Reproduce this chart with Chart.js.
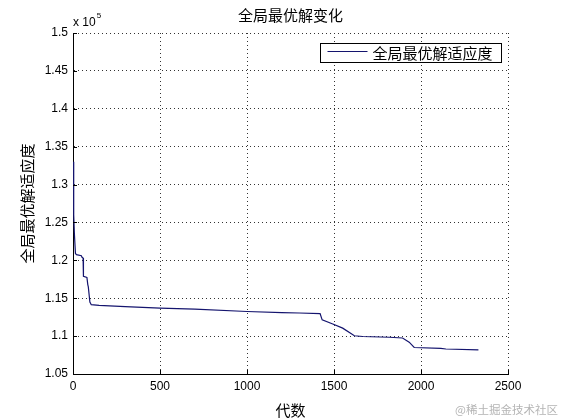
<!DOCTYPE html>
<html>
<head>
<meta charset="utf-8">
<script src="https://cdn.jsdelivr.net/npm/chart.js@4.4.1/dist/chart.umd.min.js"></script>
<style>
  html, body { margin: 0; padding: 0; background: #fff; }
  #wrap { width: 561px; height: 420px; }
</style>
</head>
<body>
<div id="wrap"><canvas id="myChart" width="561" height="420"></canvas></div>
<script>
// 数据
const generations = [0, 3, 5, 8, 14, 20, 48, 52, 58, 60, 80, 85, 88, 97, 105, 150, 300, 500, 700, 1000,
  1200, 1300, 1420, 1432, 1493, 1550, 1617, 1665, 1818, 1894, 1932, 1961, 2114, 2143, 2330];
const fitness = [133000, 131000, 126000, 123500, 120900, 120750, 120600, 120400, 120300, 117900, 117750,
  116800, 116500, 114500, 114150, 114050, 113900, 113700, 113550, 113250, 113100, 113050, 112980,
  112150, 111600, 111050, 110050, 109950, 109850, 109750, 109200, 108500, 108380, 108300, 108180];
const yTicks = [105000, 110000, 115000, 120000, 125000, 130000, 135000, 140000, 145000, 150000];
const xTicks = [0, 500, 1000, 1500, 2000, 2500];

const latin = "'Liberation Sans', Arial, sans-serif";
const cjk = "'Noto Sans CJK SC', sans-serif";
const lineColor = '#14146e';

// 图例、指数标记、内向刻度、水印
const extras = {
  id: 'extras',
  afterDatasetsDraw(chart) {
    const ctx = chart.ctx;
    const area = chart.chartArea;
    const xs = chart.scales.x, ys = chart.scales.y;
    ctx.save();

    // 内向刻度
    ctx.strokeStyle = '#000';
    ctx.lineWidth = 1;
    ctx.beginPath();
    yTicks.forEach(v => {
      const py = Math.round(ys.getPixelForValue(v)) + 0.5;
      ctx.moveTo(area.left, py); ctx.lineTo(area.left + 4, py);
    });
    xTicks.forEach(v => {
      const px = Math.round(xs.getPixelForValue(v)) + 0.5;
      ctx.moveTo(px, area.bottom); ctx.lineTo(px, area.bottom - 4);
    });
    ctx.stroke();

    // x 10^5
    ctx.fillStyle = '#000';
    ctx.textBaseline = 'alphabetic';
    ctx.textAlign = 'left';
    ctx.font = '12px ' + latin;
    ctx.fillText('x 10', area.left, area.top - 7);
    const w = ctx.measureText('x 10').width;
    ctx.font = '8px ' + latin;
    ctx.fillText('5', area.left + w + 1, area.top - 15);

    // 图例
    const ds = chart.data.datasets[0];
    ctx.font = '15px ' + cjk;
    const tw = ctx.measureText(ds.label).width;
    const bw = 7 + 40 + 5 + tw + 9, bh = 19;
    const bx = Math.round(area.right - 7 - bw) + 0.5, by = Math.round(area.top + 10) + 0.5;
    ctx.fillStyle = '#fff';
    ctx.fillRect(bx, by, bw, bh);
    ctx.strokeStyle = '#000';
    ctx.strokeRect(bx, by, bw, bh);
    ctx.strokeStyle = ds.borderColor;
    ctx.lineWidth = 1.2;
    ctx.beginPath();
    ctx.moveTo(bx + 7, by + 8); ctx.lineTo(bx + 47, by + 8);
    ctx.stroke();
    ctx.fillStyle = '#000';
    ctx.textBaseline = 'middle';
    ctx.fillText(ds.label, bx + 52, by + bh / 2);

    // 水印
    ctx.font = '11.5px ' + cjk;
    ctx.fillStyle = '#b4b4b4';
    ctx.textAlign = 'right';
    ctx.fillText('@稀土掘金技术社区', 558, 410);
    ctx.restore();
  }
};

const ctx = document.getElementById('myChart').getContext('2d');
const myChart = new Chart(ctx, {
  type: 'line',
  data: {
    datasets: [{
      label: '全局最优解适应度',
      data: generations.map((g, i) => ({ x: g, y: fitness[i] })),
      borderColor: lineColor,
      borderWidth: 1.2,
      pointRadius: 0,
      tension: 0,
      fill: false
    }]
  },
  options: {
    responsive: false,
    animation: false,
    devicePixelRatio: 1,
    layout: { padding: { left: 0, right: 53, top: 0, bottom: 0 } },
    plugins: {
      legend: { display: false },
      tooltip: { enabled: false },
      title: {
        display: true,
        fullSize: false,
        text: '全局最优解变化',
        color: '#000',
        font: { family: cjk, size: 15, weight: 'normal', lineHeight: 1.2 },
        padding: { top: 6, bottom: 9 }
      }
    },
    scales: {
      x: {
        type: 'linear',
        min: 0,
        max: 2500,
        afterFit: s => { s.height = 46; },
        afterBuildTicks: s => { s.ticks = xTicks.map(v => ({ value: v })); },
        ticks: {
          color: '#000', font: { family: latin, size: 12 }, padding: 5, maxRotation: 0,
          callback: v => String(v)
        },
        grid: { color: '#333', drawTicks: false, lineWidth: 1 },
        border: { display: true, color: '#000', width: 1, dash: [1, 3] },
        title: {
          display: true, text: '代数', color: '#000',
          font: { family: cjk, size: 15, lineHeight: 1.2 },
          padding: { top: 0, bottom: 1 }
        }
      },
      y: {
        min: 105000,
        max: 150000,
        afterFit: s => { s.width = 73; },
        afterBuildTicks: s => { s.ticks = yTicks.map(v => ({ value: v })); },
        ticks: {
          color: '#000', font: { family: latin, size: 12 }, padding: 5,
          callback: v => String(+(v / 1e5).toFixed(2))
        },
        grid: { color: '#333', drawTicks: false, lineWidth: 1 },
        border: { display: true, color: '#000', width: 1, dash: [1, 3] },
        title: {
          display: true, text: '全局最优解适应度', color: '#000',
          font: { family: cjk, size: 15, lineHeight: 1.2 },
          padding: { top: 18, bottom: 0 }
        }
      }
    }
  },
  plugins: [extras]
});
</script>
</body>
</html>
